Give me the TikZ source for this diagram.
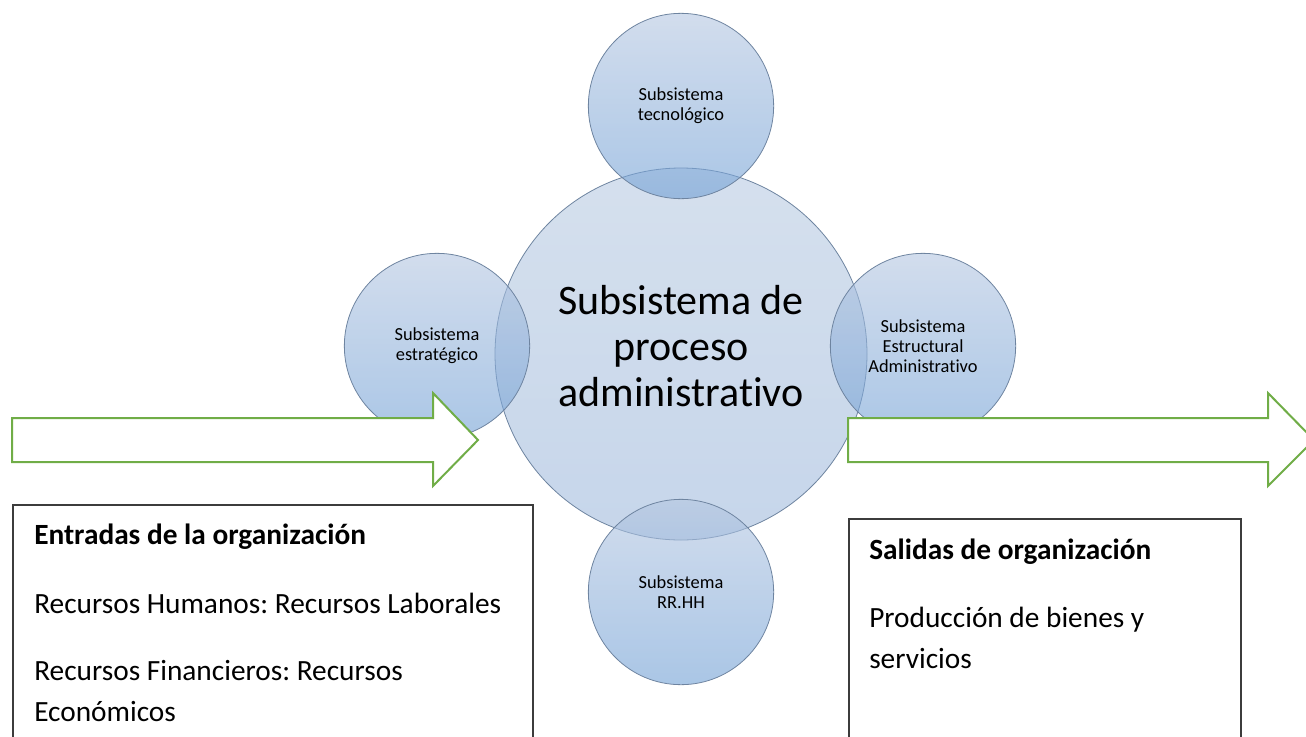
\documentclass[tikz,border=0pt]{standalone}
\usepackage{fontspec}
\setmainfont{Carlito}[Ligatures={NoCommon}]
\usepackage{xcolor}
\usepackage{tikz}
\usetikzlibrary{positioning}
\frenchspacing

\definecolor{circtop}{RGB}{180,198,225}
\definecolor{circbot}{RGB}{113,160,213}
\definecolor{bigtop}{RGB}{185,203,226}
\definecolor{bigbot}{RGB}{160,186,220}
\definecolor{circline}{RGB}{110,132,160}
\definecolor{verde}{RGB}{112,173,71}
\definecolor{cajaline}{RGB}{60,60,60}

\tikzset{
  subcirc/.style={circle,draw=circline,line width=0.6pt,top color=circtop,bottom color=circbot,
    fill opacity=0.6,text opacity=1,minimum size=139pt,inner sep=0pt,align=center,
    font=\fontsize{13.8}{15}\selectfont},
  bigcirc/.style={subcirc,top color=bigtop,bottom color=bigbot,minimum size=279pt},
  bigtext/.style={align=center,inner sep=0pt,font=\fontsize{31.5}{34.5}\selectfont},
  flecha/.style={draw=verde,line width=1.5pt,fill=white,line join=miter},
  caja/.style={draw=cajaline,line width=0.8pt},
  texto/.style={anchor=base west,inner sep=0pt,font=\fontsize{22}{30}\selectfont},
}

\begin{document}
\begin{tikzpicture}[x=0.75pt,y=-0.75pt]
  \useasboundingbox (0,0) rectangle (1306,736);
  % circulos de los subsistemas
  \node (proc) [bigcirc,label={[bigtext,yshift=6pt]center:Subsistema de\\proceso\\administrativo}] at (681,354) {};
  \node (tecno) [subcirc] at (681,106) {Subsistema\\tecnológico};
  \node (estrat) [subcirc] at (437,346) {Subsistema\\estratégico};
  \node (estruc) [subcirc] at (923,346) {Subsistema\\Estructural\\Administrativo};
  \node (rrhh) [subcirc] at (681,592) {Subsistema\\RR.HH};
  % flechas de entrada y salida
  \draw [flecha] (12,418) -- (433,418) -- (433,393) -- (478,440) -- (433,486) -- (433,462) -- (12,462) -- cycle;
  \draw [flecha] (848,418) -- (1268,418) -- (1268,393) -- (1314,440) -- (1268,486) -- (1268,462) -- (848,462) -- cycle;
  % cajas
  \draw [caja] (13,740) |- (533,505) -- (533,740);
  \draw [caja] (849,740) |- (1241,519) -- (1241,740);
  \node (ent) [texto,font=\fontsize{22}{30}\bfseries] at (34,544) {Entradas de la organización};
  \node (rh) [texto] at (34,613) {Recursos Humanos: Recursos Laborales};
  \node (rf) [texto] at (34,680) {Recursos Financieros: Recursos};
  \node (eco) [texto] at (34,721) {Económicos};
  \node (sal) [texto,font=\fontsize{22}{30}\bfseries] at (869,559) {Salidas de organización};
  \node (prod) [texto] at (869,627) {Producción de bienes y};
  \node (serv) [texto] at (869,668) {servicios};
\end{tikzpicture}
\end{document}
